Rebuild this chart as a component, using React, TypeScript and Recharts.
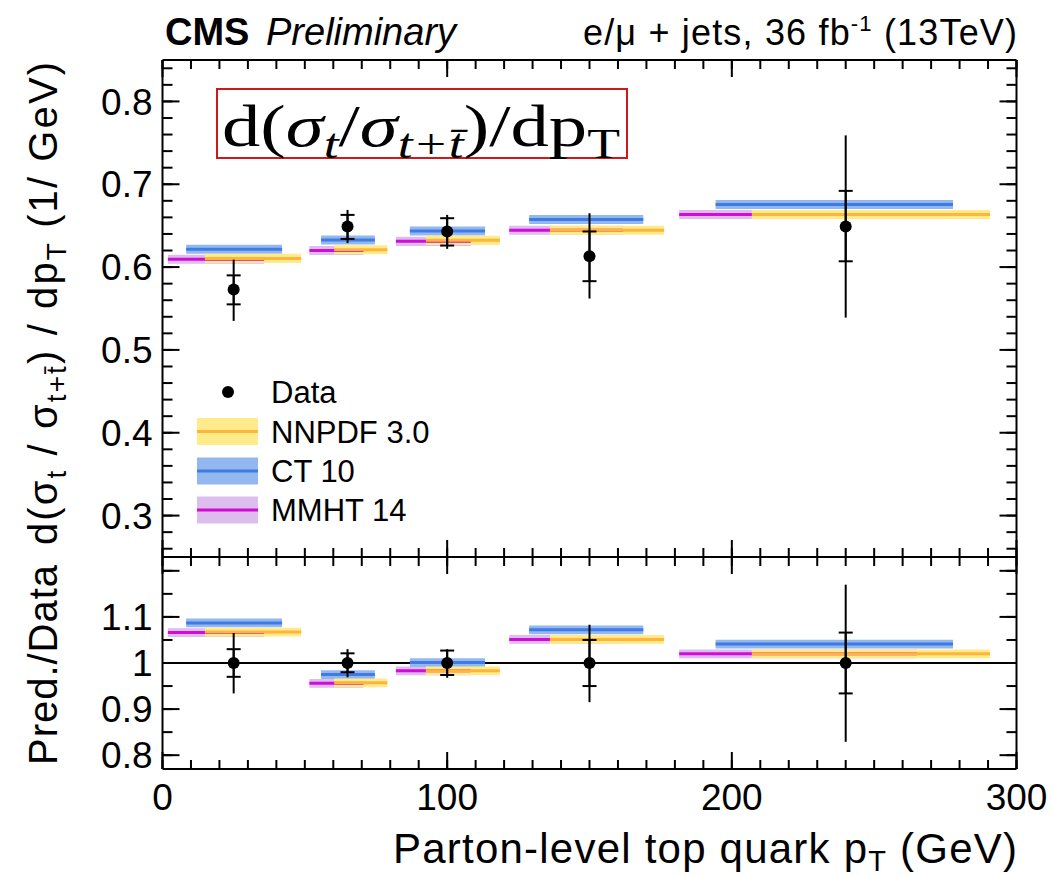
import React from 'react';
import { ComposedChart, XAxis, YAxis, Scatter, ErrorBar, ReferenceArea, ReferenceLine } from 'recharts';

// ---------------- data ----------------
const binCenters = [25, 65, 100, 150, 240];

const dataValues = [0.573, 0.649, 0.643, 0.613, 0.649];
const dataStatUp = [0.590, 0.663, 0.659, 0.643, 0.692];
const dataStatDown = [0.555, 0.634, 0.626, 0.583, 0.607];
const dataTotUp = [0.609, 0.669, 0.663, 0.665, 0.759];
const dataTotDown = [0.535, 0.629, 0.622, 0.562, 0.539];

const ratioCenter = [1, 1, 1, 1, 1];
const ratioStatUp = [1.030, 1.021, 1.027, 1.050, 1.066];
const ratioStatDown = [0.970, 0.980, 0.974, 0.950, 0.934];
const ratioTotUp = [1.065, 1.030, 1.030, 1.083, 1.170];
const ratioTotDown = [0.934, 0.969, 0.968, 0.915, 0.829];

const mmhtStart = [1.9, 51.6, 82.0, 121.8, 181.5];
const mmhtEnd = [35.7, 70.6, 108.3, 161.8, 265.0];
const ct10Start = [8.3, 55.7, 86.9, 128.8, 194.3];
const ct10End = [42.0, 74.6, 113.3, 168.9, 277.7];
const nnpdfStart = [14.9, 60.3, 92.5, 136.1, 207.0];
const nnpdfEnd = [48.7, 79.0, 118.5, 176.2, 290.7];

const mmhtValues = [0.6094, 0.6200, 0.6311, 0.6444, 0.6634];
const ct10Values = [0.6215, 0.6327, 0.6436, 0.6574, 0.6755];
const nnpdfValues = [0.6105, 0.6210, 0.6323, 0.6444, 0.6634];

const mmhtRatio = [1.066, 0.956, 0.983, 1.051, 1.020];
const ct10Ratio = [1.087, 0.975, 1.001, 1.072, 1.041];
const nnpdfRatio = [1.067, 0.957, 0.983, 1.051, 1.020];

const upperBandHalf = 0.0055;
const ratioBandHalf = 0.0095;

const xDomain = [0, 300];
const upperDomain = [0.25, 0.85];
const ratioDomain = [0.77, 1.23];

const xMajorTicks = [0, 100, 200, 300];
const upperYTicks = [0.3, 0.4, 0.5, 0.6, 0.7, 0.8];
const ratioYTicks = [0.8, 0.9, 1, 1.1, 1.2];
const ratioYLabels = [0.8, 0.9, 1, 1.1];

const steps = (from: number, to: number, step: number) => {
  const out: number[] = [];
  const n = Math.round((to - from) / step);
  for (let i = 0; i <= n; i++) out.push(Math.round((from + i * step) * 1000) / 1000);
  return out;
};
const xMinorTicks = steps(0, 300, 10);
const upperYMinor = steps(0.26, 0.84, 0.02);
const ratioYMinor = steps(0.8, 1.2, 0.05);

const models = [
  { name: 'MMHT 14', start: mmhtStart, end: mmhtEnd, upper: mmhtValues, ratio: mmhtRatio, band: '#DDBDED', line: '#D30AD8' },
  { name: 'CT 10', start: ct10Start, end: ct10End, upper: ct10Values, ratio: ct10Ratio, band: '#93B8F0', line: '#3F7BE5' },
  { name: 'NNPDF 3.0', start: nnpdfStart, end: nnpdfEnd, upper: nnpdfValues, ratio: nnpdfRatio, band: '#FFEB8A', line: '#FFB43C' },
];
const legendOrder = [2, 1, 0];

const upperPoints = binCenters.map((x, i) => ({
  x,
  y: dataValues[i],
  stat: [dataValues[i] - dataStatDown[i], dataStatUp[i] - dataValues[i]],
  tot: [dataValues[i] - dataTotDown[i], dataTotUp[i] - dataValues[i]],
}));
const ratioPoints = binCenters.map((x, i) => ({
  x,
  y: ratioCenter[i],
  stat: [ratioCenter[i] - ratioStatDown[i], ratioStatUp[i] - ratioCenter[i]],
  tot: [ratioCenter[i] - ratioTotDown[i], ratioTotUp[i] - ratioCenter[i]],
}));

// ---------------- styling ----------------
const SANS = '"Liberation Sans", Arial, Helvetica, sans-serif';
const SERIF = '"Liberation Serif", "Times New Roman", serif';
const LINE = { stroke: '#000', strokeWidth: 2 };
const W = 1052;
const PLOT_LEFT = 162.5;
const PLOT_RIGHT_MARGIN = W - 1016.5;
const THIN = 0.01;

const noLabel = () => <g />;

function frameAxes(yDomain: number[], yMajor: number[], yMinor: number[]) {
  const xCommon = { type: 'number' as const, dataKey: 'x', domain: xDomain, allowDataOverflow: true, interval: 0, tick: noLabel, mirror: true, tickLine: LINE, height: THIN };
  const yCommon = { type: 'number' as const, domain: yDomain, allowDataOverflow: true, interval: 0, tick: noLabel, mirror: true, tickLine: LINE, width: THIN };
  return [
    <XAxis key="xb" xAxisId="xb" orientation="bottom" {...xCommon} ticks={xMajorTicks} tickSize={17} axisLine={LINE} />,
    <XAxis key="xbm" xAxisId="xbm" orientation="bottom" {...xCommon} ticks={xMinorTicks} tickSize={9} axisLine={false} />,
    <XAxis key="xt" xAxisId="xt" orientation="top" {...xCommon} ticks={xMajorTicks} tickSize={17} axisLine={LINE} />,
    <XAxis key="xtm" xAxisId="xtm" orientation="top" {...xCommon} ticks={xMinorTicks} tickSize={9} axisLine={false} />,
    <YAxis key="yl" yAxisId="yl" orientation="left" {...yCommon} ticks={yMajor} tickSize={17} axisLine={LINE} />,
    <YAxis key="ylm" yAxisId="ylm" orientation="left" {...yCommon} ticks={yMinor} tickSize={10} axisLine={false} />,
    <YAxis key="yr" yAxisId="yr" orientation="right" {...yCommon} ticks={yMajor} tickSize={17} axisLine={LINE} />,
    <YAxis key="yrm" yAxisId="yrm" orientation="right" {...yCommon} ticks={yMinor} tickSize={10} axisLine={false} />,
  ];
}

function modelBands(which: 'upper' | 'ratio', half: number) {
  const out: any[] = [];
  models.forEach((m, mi) => {
    const vals = m[which];
    vals.forEach((v, i) => {
      out.push(
        <ReferenceArea
          key={`a-${which}-${mi}-${i}`}
          xAxisId="xb"
          yAxisId="yl"
          x1={m.start[i]}
          x2={m.end[i]}
          y1={v - half}
          y2={v + half}
          fill={m.band}
          fillOpacity={1}
          stroke="none"
          ifOverflow="visible"
        />
      );
      out.push(
        <ReferenceLine
          key={`l-${which}-${mi}-${i}`}
          xAxisId="xb"
          yAxisId="yl"
          segment={[{ x: m.start[i], y: v }, { x: m.end[i], y: v }]}
          stroke={m.line}
          strokeWidth={3}
          ifOverflow="visible"
        />
      );
    });
  });
  return out;
}

const dot = (p: any) => <circle cx={p.cx} cy={p.cy} r={6} fill="#000" />;

function dataSeries(points: any[]) {
  return (
    <Scatter data={points} dataKey="y" xAxisId="xb" yAxisId="yl" shape={dot} isAnimationActive={false}>
      <ErrorBar dataKey="tot" direction="y" width={0} stroke="#000" strokeWidth={2} isAnimationActive={false} />
      <ErrorBar dataKey="stat" direction="y" width={7} stroke="#000" strokeWidth={2} isAnimationActive={false} />
    </Scatter>
  );
}

const tickFont = { fill: '#000', fontSize: 37, fontFamily: SANS };

function UpperChart() {
  return (
    <div style={{ position: 'absolute', left: 0, top: 0 }}>
      <ComposedChart width={W} height={560} margin={{ top: 60, right: PLOT_RIGHT_MARGIN, bottom: 3, left: 0 }}>
        <YAxis
          yAxisId="ylab"
          orientation="left"
          type="number"
          width={PLOT_LEFT}
          domain={upperDomain}
          allowDataOverflow
          ticks={upperYTicks}
          interval={0}
          axisLine={false}
          tickLine={false}
          tickSize={0}
          tickMargin={10}
          tick={tickFont}
        />
        {frameAxes(upperDomain, upperYTicks, upperYMinor)}
        {modelBands('upper', upperBandHalf)}
        {dataSeries(upperPoints)}
      </ComposedChart>
    </div>
  );
}

function RatioChart() {
  return (
    <div style={{ position: 'absolute', left: 0, top: 540 }}>
      <ComposedChart width={W} height={337} margin={{ top: 17, right: PLOT_RIGHT_MARGIN, bottom: 68, left: 0 }}>
        <YAxis
          yAxisId="ylab"
          orientation="left"
          type="number"
          width={PLOT_LEFT}
          domain={ratioDomain}
          allowDataOverflow
          ticks={ratioYLabels}
          interval={0}
          axisLine={false}
          tickLine={false}
          tickSize={0}
          tickMargin={10}
          tick={tickFont}
        />
        <XAxis
          xAxisId="xlab"
          orientation="bottom"
          type="number"
          dataKey="x"
          height={40}
          domain={xDomain}
          allowDataOverflow
          ticks={xMajorTicks}
          interval={0}
          axisLine={false}
          tickLine={false}
          tickSize={0}
          tickMargin={15}
          tick={tickFont}
        />
        {frameAxes(ratioDomain, ratioYTicks, ratioYMinor)}
        <ReferenceLine xAxisId="xb" yAxisId="yl" y={1} stroke="#000" strokeWidth={2} />
        {modelBands('ratio', ratioBandHalf)}
        {dataSeries(ratioPoints)}
      </ComposedChart>
    </div>
  );
}

function Overlay() {
  const legendRows = [431.5, 471, 510];
  return (
    <svg width={W} height={877} style={{ position: 'absolute', left: 0, top: 0, pointerEvents: 'none' }} fontFamily={SANS}>
      <text x={165} y={45} fontSize={38} fontWeight="bold">CMS</text>
      <text x={266} y={45} fontSize={38} fontStyle="italic">Preliminary</text>
      <text x={583} y={45} fontSize={36} textLength={434}>
        e/μ + jets, 36 fb<tspan dy={-14} fontSize={22}>-1</tspan><tspan dy={14}> (13TeV)</tspan>
      </text>

      <text transform="translate(57,545) rotate(-90)" fontSize={40} textLength={483}>
        d(σ<tspan dy={9} fontSize={28}>t</tspan><tspan dy={-9}> / σ</tspan><tspan dy={9} fontSize={28}>t+t̄</tspan><tspan dy={-9}>) / dp</tspan><tspan dy={9} fontSize={28}>T</tspan><tspan dy={-9}> (1/ GeV)</tspan>
      </text>
      <text transform="translate(57,765) rotate(-90)" fontSize={40} textLength={200}>Pred./Data</text>
      <text x={393} y={863} fontSize={42} textLength={624}>
        Parton-level top quark p<tspan dy={8} fontSize={29}>T</tspan><tspan dy={-8}> (GeV)</tspan>
      </text>

      {/* formula box */}
      <rect x={217} y={89} width={410} height={69} fill="#fff" stroke="#D01818" strokeWidth={2} />
      <text x={222} y={146} fontFamily={SERIF} fontSize={60} textLength={398} lengthAdjust="spacingAndGlyphs">
        d(<tspan fontStyle="italic">σ</tspan><tspan dy={12} fontSize={42} fontStyle="italic">t</tspan><tspan dy={-12}>/</tspan><tspan fontStyle="italic">σ</tspan><tspan dy={12} fontSize={42} fontStyle="italic">t+t̄</tspan><tspan dy={-12}>)/dp</tspan><tspan dy={12} fontSize={42}>T</tspan>
      </text>

      {/* legend */}
      <circle cx={228} cy={392} r={6} fill="#000" />
      <text x={271} y={403} fontSize={31}>Data</text>
      {legendOrder.map((mi, r) => {
        const m = models[mi];
        const cy = legendRows[r];
        return (
          <g key={m.name}>
            <rect x={197} y={cy - 13.5} width={61} height={27} fill={m.band} />
            <line x1={197} x2={258} y1={cy} y2={cy} stroke={m.line} strokeWidth={3} />
            <text x={271} y={cy + 11} fontSize={31}>{m.name}</text>
          </g>
        );
      })}
    </svg>
  );
}

export default function App() {
  return (
    <div style={{ position: 'absolute', left: 0, top: 0, width: W, height: 877, background: '#fff' }}>
      <UpperChart />
      <RatioChart />
      <Overlay />
    </div>
  );
}
